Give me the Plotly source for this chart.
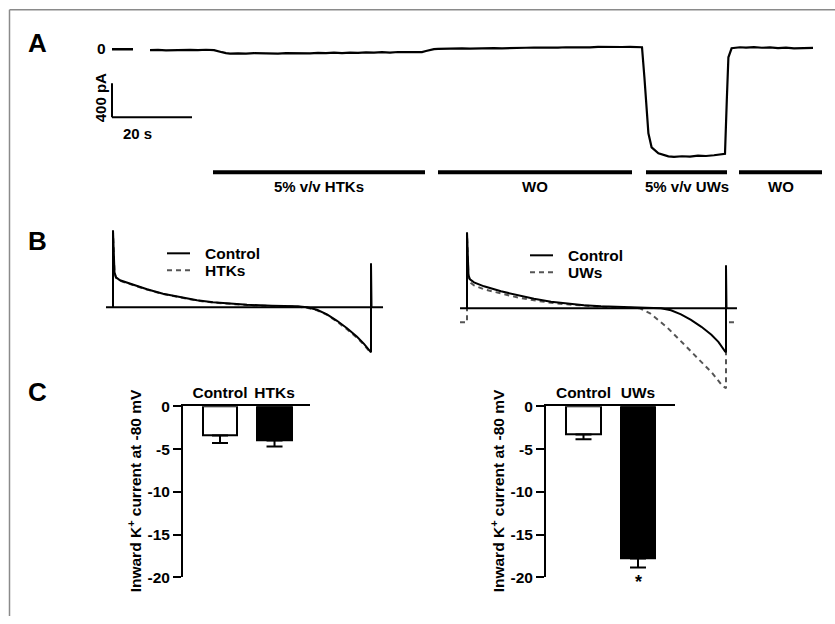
import plotly.graph_objects as go

# ---------------- DATA ----------------
# Panel A: whole-cell current trace (time in s, current in pA)
a_time = [
    0, 2, 4, 6, 8, 10, 12, 14, 16,
    17, 18, 19, 20,
    22, 24, 26, 28, 30, 32, 34, 36, 38, 40, 42, 44, 46, 48, 50, 52, 54, 56, 58, 60, 62, 64, 66, 68,
    69, 70, 71, 72,
    74, 76, 78, 80, 82, 84, 86, 88, 90, 92, 94, 96, 98, 100, 102, 104, 106, 108, 110, 112, 114, 116, 118, 120, 122,
    123, 123.6, 124.2, 124.6, 125.4, 127.1, 129.6,
    131, 133, 135, 137, 139, 141, 143, 143.75,
    144.2, 144.6, 145.4, 147.5,
    149, 151, 153, 155, 157, 159, 161, 163, 165, 165.75]
a_current = [
    -10, -6, -12, -8, -11, -7, -9, -5, -10,
    -18, -34, -44, -50,
    -47, -52, -46, -49, -44, -50, -45, -48, -43, -47, -41, -45, -40, -44, -38, -42, -36, -40, -34, -38, -32, -35, -30, -33,
    -20, -5, 2, 5,
    8, 5, 10, 7, 12, 9, 14, 11, 16, 13, 18, 20, 17, 22, 19, 24, 21, 26, 23, 28, 25, 30, 27, 29, 26,
    24, -329, -800, -988, -1153, -1224, -1259,
    -1265, -1258, -1262, -1250, -1255, -1246, -1240, -1230,
    -600, -94, 12, 24,
    20, 26, 18, 22, 15, 19, 12, 17, 14, 16]
a_conditions = ["5% v/v HTKs", "WO", "5% v/v UWs", "WO"]
a_cond_start = [15.75, 72, 124, 147.25]
a_cond_end = [68.75, 120.5, 144.25, 168]
a_scale_time = 20     # s
a_scale_current = 400  # pA

# Panel B: ramp currents (time in ms, current in nA, arbitrary scale)
b_left_ctrl_t = [0, 0, 2.9, 5.8, 13.6, 32.9, 65.9, 96.9, 129.8, 162.8, 193.8, 226.7, 259.7, 308.1, 356.6,
                 376.0, 395.3, 414.7, 434.1, 453.5, 472.9, 486.4, 498.1, 500, 500, 501]
b_left_ctrl_i = [0, 3.08, 1.4, 1.2, 1.08, 0.94, 0.72, 0.54, 0.40, 0.28, 0.20, 0.14, 0.10, 0.06, 0.04,
                 0.0, -0.10, -0.28, -0.54, -0.84, -1.18, -1.46, -1.74, -1.80, 1.76, 0]
b_left_htk_t = [0, 0, 2.9, 5.8, 13.6, 32.9, 65.9, 96.9, 129.8, 162.8, 193.8, 226.7, 259.7, 308.1, 356.6,
                376.0, 395.3, 414.7, 434.1, 453.5, 472.9, 486.4, 498.1, 500]
b_left_htk_i = [0, 3.0, 1.38, 1.18, 1.06, 0.92, 0.71, 0.53, 0.39, 0.27, 0.19, 0.13, 0.09, 0.05, 0.03,
                -0.02, -0.12, -0.30, -0.57, -0.88, -1.22, -1.50, -1.78, -1.84]
b_right_ctrl_t = [0, 0, 2.9, 5.8, 13.5, 32.8, 65.6, 96.5, 129.3, 162.2, 193.1, 225.9, 258.7, 307.0, 355.2,
                  374.5, 393.8, 413.1, 432.4, 452.5, 471.8, 485.3, 498.1, 500, 500, 501]
b_right_ctrl_i = [0, 3.04, 1.32, 1.16, 1.04, 0.88, 0.68, 0.52, 0.38, 0.26, 0.18, 0.12, 0.08, 0.05, 0.03,
                  0.0, -0.08, -0.24, -0.46, -0.74, -1.06, -1.34, -1.72, -1.76, 1.72, 0]
b_right_uw_t = [-13.5, -1.9, 0, 0, 2.9, 5.8, 13.5, 32.8, 65.6, 96.5, 129.3, 162.2, 193.1, 225.9, 258.7, 307.0,
                334.0, 353.3, 372.6, 386.1, 417.0, 449.8, 473.0, 492.3, 498.1, 500, 500, None, 505.8, 515.4]
b_right_uw_i = [-0.56, -0.56, -0.56, 2.96, 1.2, 1.04, 0.92, 0.76, 0.58, 0.44, 0.32, 0.22, 0.16, 0.10, 0.06, 0.03,
                0.0, -0.20, -0.52, -0.76, -1.40, -2.08, -2.58, -3.08, -3.2, -3.2, -0.56, None, -0.56, -0.56]

# Panel C: inward K+ current at -80 mV
c_left_cats = ["Control", "HTKs"]
c_left_vals = [-3.4, -4.0]
c_left_err = [0.9, 0.7]
c_right_cats = ["Control", "UWs"]
c_right_vals = [-3.3, -17.8]
c_right_err = [0.55, 1.05]
c_ticks = [0, -5, -10, -15, -20]
c_ticktext = ["0", "-5", "-10", "-15", "-20"]

# ---------------- LAYOUT HELPERS ----------------
W, H = 835, 624
FONT = "Liberation Sans, Arial, sans-serif"
TS = 15.5  # text size
# the page is photographed with the figure slightly compressed vertically; compensate
SY_SCALE, SY_OFF = 0.9727, 8.7


def fx(x):
    return x / W


def fy(y):
    yd = (y - SY_OFF) / SY_SCALE
    return min(1.0, max(0.0, 1 - yd / H))


fig = go.Figure()

# Panel A trace
fig.add_trace(go.Scatter(x=a_time, y=a_current, mode="lines", line=dict(color="black", width=2.2),
                         xaxis="x", yaxis="y", showlegend=False, hoverinfo="skip"))

# Panel B traces
fig.add_trace(go.Scatter(x=b_left_htk_t, y=b_left_htk_i, mode="lines",
                         line=dict(color="#555555", width=2, dash="5px,4px"),
                         xaxis="x2", yaxis="y2", showlegend=False, hoverinfo="skip"))
fig.add_trace(go.Scatter(x=b_left_ctrl_t, y=b_left_ctrl_i, mode="lines", line=dict(color="black", width=2),
                         xaxis="x2", yaxis="y2", showlegend=False, hoverinfo="skip"))
fig.add_trace(go.Scatter(x=b_right_uw_t, y=b_right_uw_i, mode="lines",
                         line=dict(color="#555555", width=2, dash="5px,4px"),
                         xaxis="x3", yaxis="y3", showlegend=False, hoverinfo="skip", connectgaps=False))
fig.add_trace(go.Scatter(x=b_right_ctrl_t, y=b_right_ctrl_i, mode="lines", line=dict(color="black", width=2),
                         xaxis="x3", yaxis="y3", showlegend=False, hoverinfo="skip"))

# Panel C bars
err_style = dict(type="data", symmetric=False, color="black", thickness=2, width=8)
fig.add_trace(go.Bar(x=c_left_cats, y=c_left_vals, xaxis="x4", yaxis="y4", width=0.64,
                     marker=dict(color=["white", "black"], line=dict(color="black", width=2)),
                     error_y=dict(array=[0, 0], arrayminus=c_left_err, **err_style),
                     showlegend=False, hoverinfo="skip"))
fig.add_trace(go.Bar(x=c_right_cats, y=c_right_vals, xaxis="x5", yaxis="y5", width=0.64,
                     marker=dict(color=["white", "black"], line=dict(color="black", width=2)),
                     error_y=dict(array=[0, 0], arrayminus=c_right_err, **err_style),
                     showlegend=False, hoverinfo="skip"))

hidden = dict(visible=False, showgrid=False, zeroline=False, fixedrange=True)
c_x = dict(side="top", showline=True, linewidth=2, linecolor="black", ticks="", showgrid=False,
           zeroline=False, type="category", ticklabelstandoff=0,
           tickfont=dict(family=FONT, size=TS, color="black", weight="bold"))
c_y = dict(range=[-20, 0], showline=True, linewidth=2, linecolor="black", ticks="outside", ticklen=8,
           tickwidth=2, tickcolor="black", tickvals=c_ticks, ticktext=c_ticktext, showgrid=False,
           zeroline=False, tickfont=dict(family=FONT, size=TS, color="black", weight="bold"))

fig.update_layout(
    width=W, height=H, autosize=False, margin=dict(l=0, r=0, t=0, b=0, pad=0),
    paper_bgcolor="white", plot_bgcolor="rgba(0,0,0,0)",
    xaxis=dict(domain=[fx(100), fx(830)], range=[-12.5, 170], anchor="y", **hidden),
    yaxis=dict(domain=[fy(200), fy(30)], range=[(49 - 200) / 0.085, (49 - 30) / 0.085], anchor="x", **hidden),
    xaxis2=dict(domain=[fx(100), fx(390)], range=[-25.2, 536.8], anchor="y2", **hidden),
    yaxis2=dict(domain=[fy(395), fy(225)], range=[-3.52, 3.28], anchor="x2", **hidden),
    xaxis3=dict(domain=[fx(455), fx(745)], range=[-23.2, 536.7], anchor="y3", **hidden),
    yaxis3=dict(domain=[fy(395), fy(225)], range=[-3.48, 3.32], anchor="x3", **hidden),
    xaxis4=dict(domain=[fx(183), fx(310)], range=[-0.679, 1.651], anchor="y4", **c_x),
    yaxis4=dict(domain=[fy(577), fy(406)], anchor="x4", **c_y),
    xaxis5=dict(domain=[fx(546), fx(675)], range=[-0.688, 1.679], anchor="y5", **c_x),
    yaxis5=dict(domain=[fy(577), fy(406)], anchor="x5", **c_y),
    bargap=0,
)

shapes = []
# figure border (left and top)
shapes.append(dict(type="line", xref="paper", yref="paper", x0=fx(9.5), x1=fx(9.5), y0=0, y1=fy(9.5),
                   line=dict(color="#8a8a8a", width=1.5)))
shapes.append(dict(type="line", xref="paper", yref="paper", x0=fx(9.5), x1=1, y0=fy(9.5), y1=fy(9.5),
                   line=dict(color="#8a8a8a", width=1.5)))
# Panel A: zero marker and scale bars
shapes.append(dict(type="line", xref="x", yref="y", x0=-9.5, x1=-4.25, y0=0, y1=0,
                   line=dict(color="black", width=2.5)))
shapes.append(dict(type="line", xref="x", yref="y", x0=-9.5, x1=-9.5,
                   y0=-a_scale_current, y1=-2 * a_scale_current, line=dict(color="black", width=2)))
shapes.append(dict(type="line", xref="x", yref="y", x0=-9.5, x1=-9.5 + a_scale_time,
                   y0=-2 * a_scale_current, y1=-2 * a_scale_current, line=dict(color="black", width=2)))
# Panel A: condition bars
for s, e in zip(a_cond_start, a_cond_end):
    shapes.append(dict(type="line", xref="x", yref="y", x0=s, x1=e, y0=-1447, y1=-1447,
                       line=dict(color="black", width=4)))
# Panel B: zero lines
shapes.append(dict(type="line", xref="x2", yref="y2", x0=-13.6, x1=523.3, y0=0, y1=0,
                   line=dict(color="black", width=2)))
shapes.append(dict(type="line", xref="x3", yref="y3", x0=-13.5, x1=521.2, y0=0, y1=0,
                   line=dict(color="black", width=2)))
# Panel B: legend keys
for (x0, x1, y, dash, col) in [(167, 190, 253, "solid", "black"), (167, 190, 270, "5px,4px", "#555555"),
                               (530, 553, 255, "solid", "black"), (530, 553, 272, "5px,4px", "#555555")]:
    shapes.append(dict(type="line", xref="paper", yref="paper", x0=fx(x0), x1=fx(x1), y0=fy(y), y1=fy(y),
                       line=dict(color=col, width=2, dash=dash)))

ann = []


def txt(text, x, y, size=TS, xanchor="center", angle=0, xref="paper", yref="paper"):
    ann.append(dict(text="<b>%s</b>" % text, x=x, y=y, xref=xref, yref=yref, xanchor=xanchor,
                    yanchor="middle", showarrow=False, textangle=angle,
                    font=dict(family=FONT, size=size, color="black")))


# panel letters
txt("A", fx(37), fy(43), size=26)
txt("B", fx(37), fy(241), size=26)
txt("C", fx(37), fy(392), size=26)
# panel A texts
txt("0", fx(108), fy(48), xanchor="right")
txt("400 pA", fx(100), fy(98), size=15, angle=-90)
txt("20 s", fx(137), fy(133), size=15)
for name, s, e in zip(a_conditions, a_cond_start, a_cond_end):
    txt(name, (s + e) / 2, fy(186), size=15, xref="x")
# panel B legend labels
txt("Control", fx(203), fy(253), xanchor="left")
txt("HTKs", fx(203), fy(270), xanchor="left")
txt("Control", fx(566), fy(255), xanchor="left")
txt("UWs", fx(566), fy(272), xanchor="left")
# panel C titles and star
txt("Inward K<sup>+</sup> current at -80 mV", fx(135), fy(491), angle=-90)
txt("Inward K<sup>+</sup> current at -80 mV", fx(498), fy(491), angle=-90)
txt("*", fx(638), fy(582), size=18)

fig.update_layout(shapes=shapes, annotations=ann)
fig.write_html("out.html", config={"displayModeBar": False, "responsive": False},
               post_script="document.body.style.margin='0px';document.body.style.padding='0px';"
                           "document.body.style.overflow='hidden';")
